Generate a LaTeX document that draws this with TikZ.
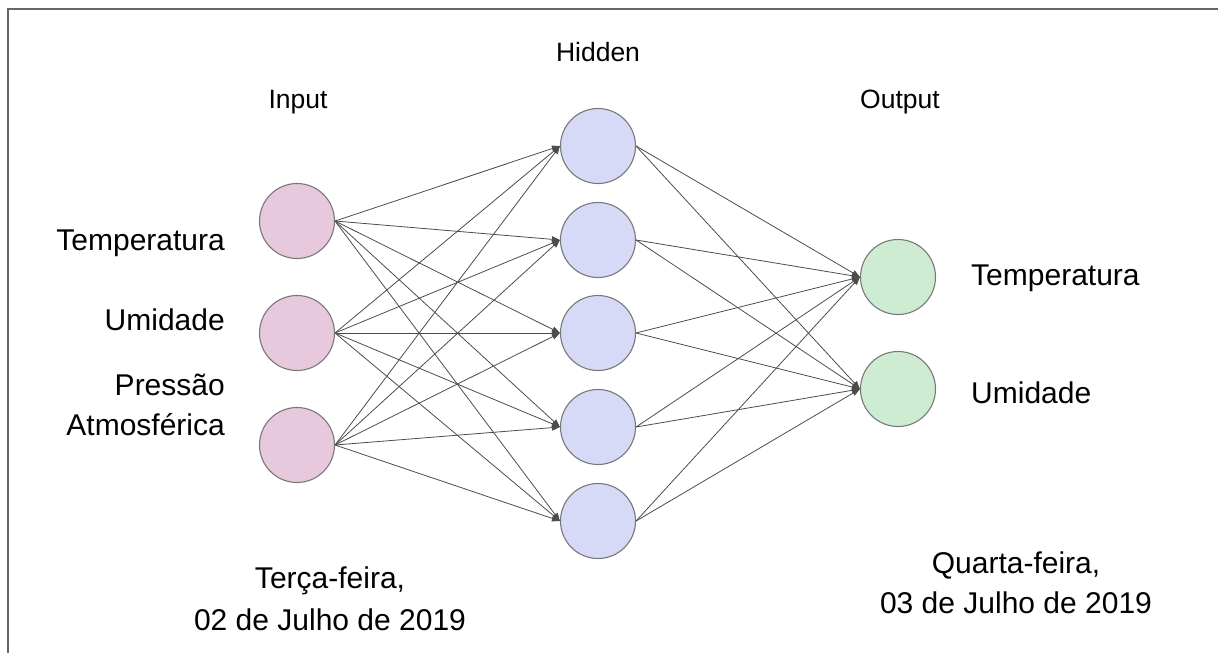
\documentclass[tikz,border=0pt]{standalone}
\usepackage{fontspec}
\setmainfont{Liberation Sans}
\usetikzlibrary{arrows.meta,positioning}
\definecolor{inpink}{RGB}{232,200,221}
\definecolor{hidblue}{RGB}{214,218,246}
\definecolor{outgreen}{RGB}{206,236,210}
\definecolor{rimgray}{RGB}{120,120,120}

\begin{document}
\begin{tikzpicture}[x=1pt, y=-1pt,
  neuron/.style={circle, draw=rimgray, line width=1.1pt, minimum size=75pt, inner sep=0pt},
  lbl/.style={inner sep=0pt, font=\fontsize{30}{36}\selectfont},
  head/.style={inner sep=0pt, anchor=base, font=\fontsize{26.5}{32}\selectfont},
  link/.style={draw=black!70, line width=0.8pt, -{Triangle[length=8pt,width=6pt]}}]

  \useasboundingbox (0,0) rectangle (1218,653);

  % moldura
  \draw[black!60, line width=1.5pt] (1218,9) -- (8,9) -- (8,653);

  % Camadas
  \node[head] (tin) at (298,108) {Input};
  \node[head] (thid) at (598,61) {Hidden};
  \node[head] (tout) at (900,108) {Output};

  \node[neuron, fill=inpink] (i1) at (297,221) {};
  \node[neuron, fill=inpink] (i2) at (297,333) {};
  \node[neuron, fill=inpink] (i3) at (297,445) {};

  \node[neuron, fill=hidblue] (h1) at (598,146) {};
  \node[neuron, fill=hidblue] (h2) at (598,240) {};
  \node[neuron, fill=hidblue] (h3) at (598,333) {};
  \node[neuron, fill=hidblue] (h4) at (598,427) {};
  \node[neuron, fill=hidblue] (h5) at (598,521) {};

  \node[neuron, fill=outgreen] (o1) at (898,277) {};
  \node[neuron, fill=outgreen] (o2) at (898,389) {};

  % Ligacoes
  \foreach \a in {1,2,3}
    \foreach \b in {1,...,5}
      \draw[link] (i\a.east) -- (h\b.west);
  \foreach \b in {1,...,5}
    \foreach \c in {1,2}
      \draw[link] (h\b.east) -- (o\c.west);

  % Rotulos de entrada
  \node[lbl, anchor=base east] (lt) at (225,250) {Temperatura};
  \node[lbl, anchor=base east] (lu) at (225,330) {Umidade};
  \node[lbl, anchor=base east] (lp) at (225,395) {Pressão};
  \node[lbl, anchor=base east] (la) at (225,435) {Atmosférica};

  % Rotulos de saida
  \node[lbl, anchor=base west] (rt) at (971,285) {Temperatura};
  \node[lbl, anchor=base west] (ru) at (971,403) {Umidade};

  % Datas
  \node[lbl, anchor=base] (d1a) at (330,588) {Terça-feira,};
  \node[lbl, anchor=base] (d1b) at (330,630) {02 de Julho de 2019};
  \node[lbl, anchor=base] (d2a) at (1016,573) {Quarta-feira,};
  \node[lbl, anchor=base] (d2b) at (1016,613) {03 de Julho de 2019};
\end{tikzpicture}
\end{document}
